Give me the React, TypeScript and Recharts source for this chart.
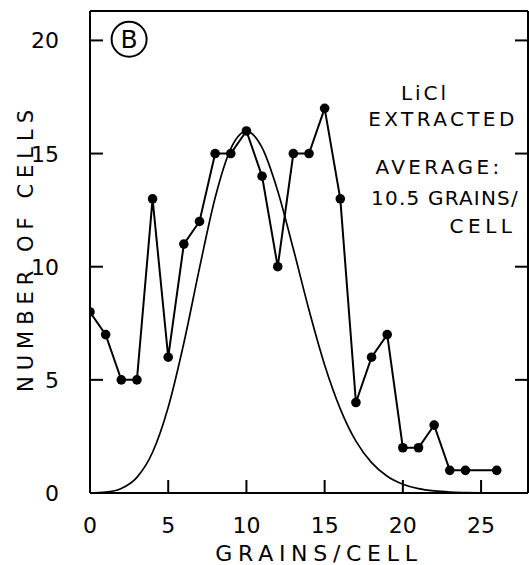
import React from 'react';
import { ComposedChart, Line, XAxis, YAxis, ReferenceDot } from 'recharts';

// Observed histogram (grains per cell -> number of cells)
const grains = [0, 1, 2, 3, 4, 5, 6, 7, 8, 9, 10, 11, 12, 13, 14, 15, 16, 17, 18, 19, 20, 21, 22, 23, 24, 26];
const cells = [8, 7, 5, 5, 13, 6, 11, 12, 15, 15, 16, 14, 10, 15, 15, 17, 13, 4, 6, 7, 2, 2, 3, 1, 1, 1];

// Smooth expected curve
const curveX = [0, 1, 2, 3, 4, 5, 6, 7, 8, 9, 10, 11, 12, 13, 14, 15, 16, 17, 18, 19, 20, 21, 22, 23, 24, 25];
const curveY = [0.004, 0.04, 0.2, 0.69, 1.8, 3.79, 6.63, 9.94, 13.05, 15.22, 15.98, 15.26, 13.35, 10.78, 8.09, 5.66, 3.72, 2.29, 1.34, 0.74, 0.39, 0.19, 0.09, 0.04, 0.02, 0.01];

const xTicks = [0, 5, 10, 15, 20, 25];
const xTopTicks = [5, 10, 15, 20, 25];
const yTicks = [0, 5, 10, 15, 20];
const yRightTicks = [5, 10, 15, 20];

const observed = grains.map((g, i) => ({ g, n: cells[i] }));
const expected = curveX.map((g, i) => ({ g, n: curveY[i] }));

const FONT = '"DejaVu Sans", sans-serif';
const W = 521;
const H = 557;
const TL = 13; // inward tick length
const XM = 24; // bottom label margin
const YM = 31; // left label margin

const BottomTick = (props: any) => {
  const { x, y, payload } = props;
  const ay = y - XM;
  return (
    <g>
      <line x1={x} y1={ay} x2={x} y2={ay - TL} stroke="#000" strokeWidth={2} />
      <text x={x} y={y + 16} textAnchor="middle" fontSize={22} fontFamily={FONT} fill="#000">
        {payload.value}
      </text>
    </g>
  );
};

const LeftTick = (props: any) => {
  const { x, y, payload } = props;
  const ax = x + YM;
  return (
    <g>
      <line x1={ax} y1={y} x2={ax + TL} y2={y} stroke="#000" strokeWidth={2} />
      <text x={x} y={y + 8} textAnchor="end" fontSize={22} fontFamily={FONT} fill="#000">
        {payload.value}
      </text>
    </g>
  );
};

const TopTick = (props: any) => {
  const { x, y } = props;
  const ay = y + 2;
  return <line x1={x} y1={ay} x2={x} y2={ay + TL} stroke="#000" strokeWidth={2} />;
};

const RightTick = (props: any) => {
  const { x, y } = props;
  const ax = x - 2;
  return <line x1={ax} y1={y} x2={ax - TL} y2={y} stroke="#000" strokeWidth={2} />;
};

export default function App() {
  return (
    <div style={{ position: 'fixed', top: 8, left: 8, width: W, height: H, background: '#fff' }}>
      <ComposedChart width={W} height={H} margin={{ top: 0, right: 0, bottom: 0, left: 0 }}>
        <XAxis
          dataKey="g"
          type="number"
          domain={[0, 28]}
          ticks={xTicks}
          allowDataOverflow
          height={72}
          axisLine={{ stroke: '#000', strokeWidth: 2 }}
          tickLine={false}
          tickSize={0}
          tickMargin={XM}
          tick={<BottomTick />}
        />
        <XAxis
          xAxisId="top"
          orientation="top"
          type="number"
          domain={[0, 28]}
          ticks={xTopTicks}
          allowDataOverflow
          height={3}
          axisLine={{ stroke: '#000', strokeWidth: 2 }}
          tickLine={false}
          tickSize={0}
          tickMargin={2}
          tick={<TopTick />}
        />
        <YAxis
          type="number"
          domain={[0, 21.3]}
          ticks={yTicks}
          allowDataOverflow
          width={82}
          axisLine={{ stroke: '#000', strokeWidth: 2 }}
          tickLine={false}
          tickSize={0}
          tickMargin={YM}
          tick={<LeftTick />}
        />
        <YAxis
          yAxisId="right"
          orientation="right"
          type="number"
          domain={[0, 21.3]}
          ticks={yRightTicks}
          allowDataOverflow
          width={1}
          axisLine={{ stroke: '#000', strokeWidth: 2 }}
          tickLine={false}
          tickSize={0}
          tickMargin={2}
          tick={<RightTick />}
        />
        <Line
          data={expected}
          dataKey="n"
          type="monotone"
          stroke="#000"
          strokeWidth={1.7}
          dot={false}
          isAnimationActive={false}
        />
        <Line
          data={observed}
          dataKey="n"
          type="linear"
          stroke="#000"
          strokeWidth={2}
          dot={{ r: 4.8, fill: '#000', stroke: '#000', strokeWidth: 0 }}
          isAnimationActive={false}
        />
        <ReferenceDot
          x={2.5}
          y={20.05}
          r={17.5}
          fill="#fff"
          stroke="#000"
          strokeWidth={2}
          label={{ value: 'B', position: 'center', fontSize: 25, fill: '#000', fontFamily: FONT }}
        />
      </ComposedChart>
      <svg
        width={W}
        height={H}
        style={{ position: 'absolute', top: 0, left: 0, pointerEvents: 'none' }}
        fontFamily={FONT}
        fill="#000"
      >
        <text x={25} y={240} fontSize={21} letterSpacing={6} textAnchor="middle" transform="rotate(-90, 25, 240)">
          NUMBER OF CELLS
        </text>
        <text x={311} y={553} fontSize={22} letterSpacing={5.7} textAnchor="middle">
          GRAINS/CELL
        </text>
        <text x={417} y={91.5} fontSize={20} letterSpacing={3} textAnchor="middle">LiCl</text>
        <text x={435} y={117.5} fontSize={20} letterSpacing={3.4} textAnchor="middle">EXTRACTED</text>
        <text x={431} y={165.5} fontSize={20} letterSpacing={3.4} textAnchor="middle">AVERAGE:</text>
        <text x={437} y={196.5} fontSize={20} letterSpacing={1.2} textAnchor="middle">10.5 GRAINS/</text>
        <text x={475} y={224.5} fontSize={20} letterSpacing={4.5} textAnchor="middle">CELL</text>
      </svg>
    </div>
  );
}
